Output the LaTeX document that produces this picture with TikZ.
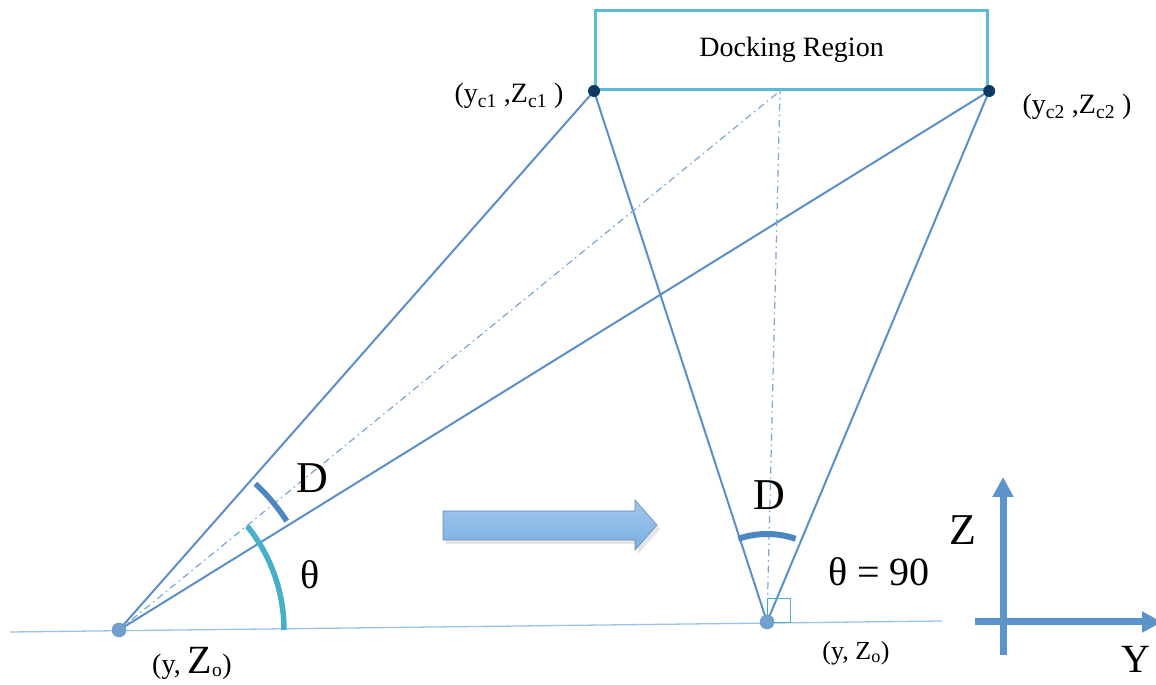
\documentclass[tikz,border=0pt]{standalone}
\usepackage{fontspec}
\setmainfont{Liberation Serif}
\usetikzlibrary{arrows.meta}
\definecolor{lineblue}{HTML}{5A8FC8}
\definecolor{arcblue}{HTML}{4E86C0}
\definecolor{arccyan}{HTML}{45B0C8}
\definecolor{boxcyan}{HTML}{5BBAD5}
\definecolor{dotnavy}{HTML}{0D3B66}
\definecolor{axisblue}{HTML}{5B93CB}
\definecolor{basecol}{HTML}{9CC3E6}
\definecolor{arrowfill}{HTML}{79AFE2}
\tikzset{
  ray/.style={draw=lineblue, line width=2pt},
  dashray/.style={draw=lineblue!80, line width=1.2pt, dash pattern=on 7pt off 4pt on 1.5pt off 4pt},
  pointdot/.style={circle, fill=lineblue!85, draw=lineblue, inner sep=0pt, minimum size=14pt},
  cornerdot/.style={circle, fill=dotnavy, inner sep=0pt, minimum size=12pt},
  lbl/.style={inner sep=0pt, font=\fontsize{28}{32}\selectfont},
  biglbl/.style={inner sep=0pt, font=\fontsize{44}{48}\selectfont},
  axis/.style={draw=axisblue, line width=7pt, -{Triangle[width=20pt,length=20pt]}},
}
\begin{document}
\begin{tikzpicture}[x=1pt,y=1pt]
\useasboundingbox (0,0) rectangle (1156,685);
% coordinates
\coordinate (L) at (119,55);
\coordinate (R) at (767,63);
\coordinate (M) at (780,594);
\coordinate (B1) at (10,53);
\coordinate (B2) at (942,64);
% baseline
\draw[draw=basecol, line width=1.3pt] (B1) -- (B2);
% docking box
\node[draw=boxcyan, line width=3.2pt, minimum width=392pt, minimum height=79pt, inner sep=0pt, anchor=south west, font=\fontsize{28}{30}\selectfont] (box) at (594,594) {Docking Region};
\coordinate (C1) at (box.south west);
\coordinate (C2) at (box.south east);
% rays
\draw[ray] (L) -- (C1);
\draw[ray] (L) -- (C2);
\draw[ray] (R) -- (C1);
\draw[ray] (R) -- (C2);
\draw[dashray] (L) -- (M);
\draw[dashray] (R) -- (M);
% arcs
\draw[arcblue, line width=5.5pt] (L) ++(33:200) arc[start angle=33, end angle=47, radius=200];
\draw[arccyan, line width=5.5pt] (L) ++(0:165) arc[start angle=0, end angle=39, radius=165];
\draw[arcblue, line width=6pt] (R) ++(71:88) arc[start angle=71, end angle=109, radius=88];
\draw[arccyan, line width=0.9pt] (R) rectangle ++(23,24);
% points
\node[pointdot] (pL) at (L) {};
\node[pointdot] (pR) at (R) {};
\node[cornerdot] (d1) at (C1) {};
\node[cornerdot] (d2) at (C2) {};
% labels
\node[lbl] (lc1) at (509,589) {(y\textsubscript{c1} ,Z\textsubscript{c1} )};
\node[lbl] (lc2) at (1077,578) {(y\textsubscript{c2} ,Z\textsubscript{c2} )};
\node[biglbl] (D1) at (312,207) {D};
\node[biglbl, font=\fontsize{40}{44}\selectfont] (th1) at (310,110) {θ};
\node[biglbl] (D2) at (769,190) {D};
\node[biglbl, font=\fontsize{40}{44}\selectfont] (th2) at (879,113) {θ = 90};
\node[lbl, font=\fontsize{28}{30}\selectfont] (o1) at (192,22) {(y, {\fontsize{40}{42}\selectfont Z}\textsubscript{o})};
\node[lbl, font=\fontsize{26}{28}\selectfont] (o2) at (856,32) {(y, Z\textsubscript{o})};
% block arrow
\fill[gray!40, opacity=0.5] (446,170) -- (638,170) -- (638,181) -- (660,156) -- (638,131) -- (638,141) -- (446,141) -- cycle;
\draw[draw=arrowfill!80!black, line width=0.6pt, top color=arrowfill!70, bottom color=arrowfill] (443,174) -- (635,174) -- (635,185) -- (657,160) -- (635,135) -- (635,145) -- (443,145) -- cycle;
% axes
\coordinate (Zs) at (1003,30);
\coordinate (Ze) at (1003,208);
\coordinate (Ys) at (975,63);
\coordinate (Ye) at (1162,63);
\draw[axis] (Zs) -- (Ze);
\draw[axis] (Ys) -- (Ye);
\node[biglbl] (Zl) at (963,155) {Z};
\node[biglbl, font=\fontsize{40}{44}\selectfont] (Yl) at (1136,26) {Y};
\end{tikzpicture}
\end{document}
